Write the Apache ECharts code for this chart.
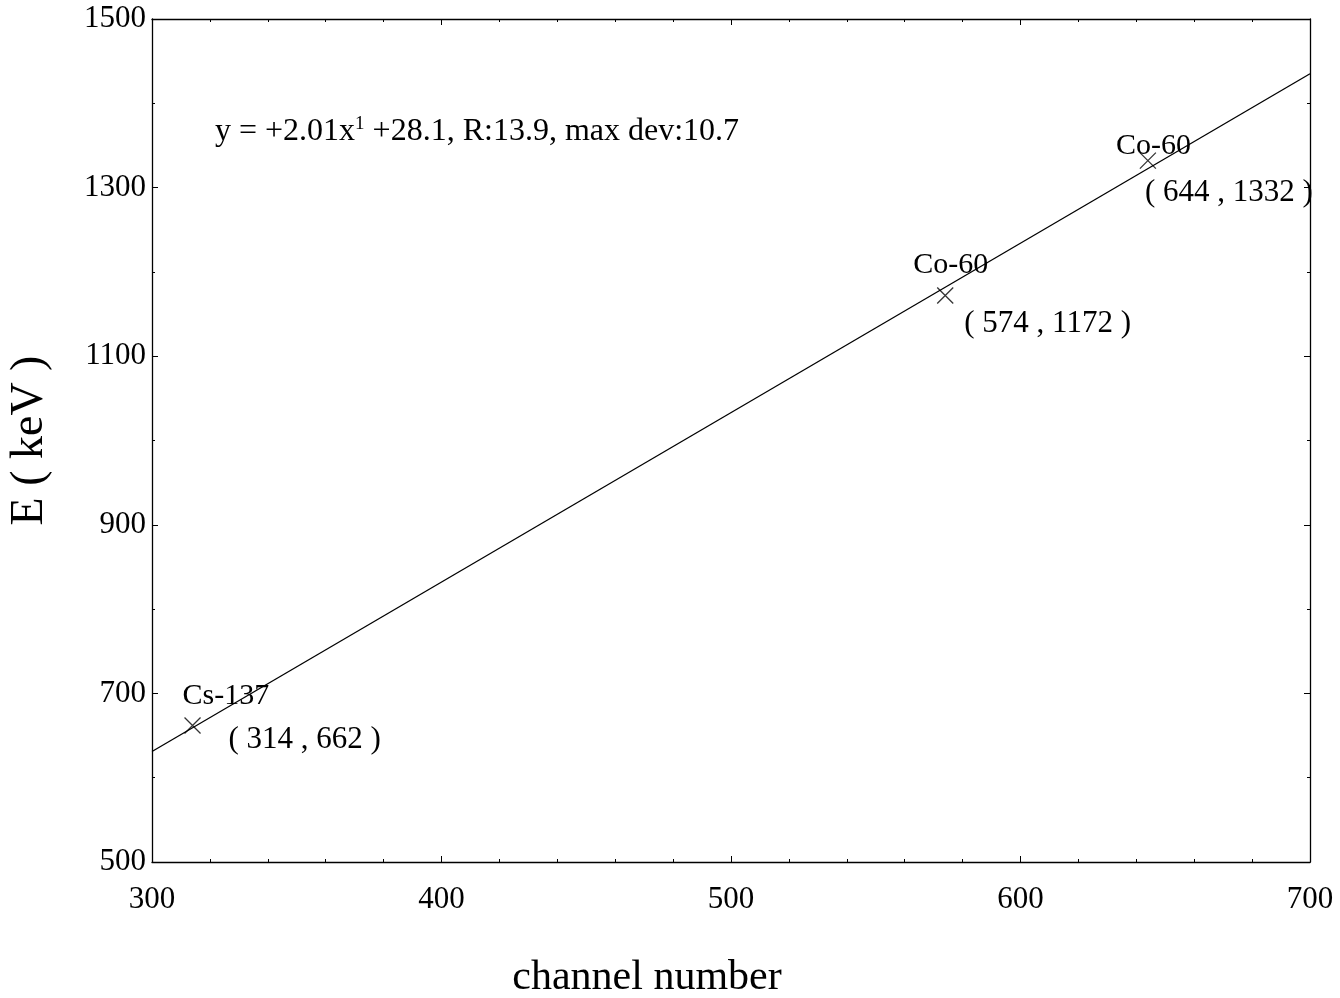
<!DOCTYPE html>
<html>
<head>
<meta charset="utf-8">
<script src="https://cdn.jsdelivr.net/npm/echarts@6/dist/echarts.min.js"></script>
<style>
  html, body { margin: 0; padding: 0; background: #fff; }
  #chart { width: 1340px; height: 998px; }
</style>
</head>
<body>
<div id="chart"></div>
<script>
// Calibration points: channel number vs. gamma energy
const isotopes = ['Cs-137', 'Co-60', 'Co-60'];
const channels = [314, 574, 644];
const energies = [662, 1172, 1332];

// Linear fit y = a*x + b
const fitSlope = 2.01;
const fitIntercept = 28.1;
const fitRange = [300, 700];
const fitText = 'y = +2.01x{sup|1} +28.1, R:13.9, max dev:10.7';

// Where each isotope name and coordinate pair sits relative to its marker (px)
const nameOffsets = [[-10, -29], [-32, -30], [-32, -14]];
const coordOffsets = [[36, 14], [19, 28], [-3, 32]];

const FONT = '"Liberation Serif", "DejaVu Serif", serif';

const fitLine = fitRange.map(x => [x, fitSlope * x + fitIntercept]);
const points = channels.map((c, i) => [c, energies[i]]);

const labelStyle = { show: true, position: 'right', distance: 0, color: '#000', opacity: 1, fontSize: 30, fontFamily: FONT };
const labelData = [];
points.forEach((p, i) => {
  labelData.push({
    value: p,
    label: Object.assign({}, labelStyle, { formatter: isotopes[i], offset: nameOffsets[i] })
  });
  labelData.push({
    value: p,
    label: Object.assign({}, labelStyle, { fontSize: 31, formatter: '( ' + channels[i] + ' , ' + energies[i] + ' )', offset: coordOffsets[i] })
  });
});

const chart = echarts.init(document.getElementById('chart'));

const baseAxis = {
  axisLine: { show: true, onZero: false, lineStyle: { color: '#000', width: 1.3 } },
  axisTick: { show: true, inside: true, length: 6, lineStyle: { color: '#000' } },
  minorTick: { show: true, length: 3, lineStyle: { color: '#000' } },
  splitLine: { show: false }
};

chart.setOption({
  animation: false,
  backgroundColor: '#fff',
  grid: { left: 152, top: 19, right: 30, bottom: 136, containLabel: false, outerBoundsMode: 'none' },
  textStyle: { fontFamily: FONT },
  graphic: [{
    type: 'text',
    left: 215,
    top: 115,
    style: {
      text: fitText,
      font: '32px ' + FONT,
      fill: '#000',
      rich: {
        sup: { fontSize: 19, verticalAlign: 'top', padding: [0, 0, 15, 0], fontFamily: FONT, fill: '#000' }
      }
    }
  }],
  xAxis: [
    Object.assign({}, baseAxis, {
      type: 'value', min: 300, max: 700, interval: 100, position: 'bottom',
      minorTick: Object.assign({}, baseAxis.minorTick, { splitNumber: 5 }),
      axisLabel: { color: '#000', fontSize: 31, fontFamily: FONT, margin: 22 },
      name: 'channel number', nameLocation: 'middle', nameGap: 95,
      nameTextStyle: { color: '#000', fontSize: 42, fontFamily: FONT, padding: [0, 168, 0, 0] }
    }),
    Object.assign({}, baseAxis, {
      type: 'value', min: 300, max: 700, interval: 100, position: 'top',
      minorTick: Object.assign({}, baseAxis.minorTick, { splitNumber: 5 }),
      axisLabel: { show: false }
    })
  ],
  yAxis: [
    Object.assign({}, baseAxis, {
      type: 'value', min: 500, max: 1500, interval: 200, position: 'left',
      minorTick: Object.assign({}, baseAxis.minorTick, { splitNumber: 2 }),
      axisLabel: { color: '#000', fontSize: 31, fontFamily: FONT, margin: 6, formatter: v => String(v) },
      name: 'E ( keV )', nameLocation: 'middle', nameGap: 99, nameRotate: 90,
      nameTextStyle: { color: '#000', fontSize: 46, fontFamily: FONT }
    }),
    Object.assign({}, baseAxis, {
      type: 'value', min: 500, max: 1500, interval: 200, position: 'right',
      minorTick: Object.assign({}, baseAxis.minorTick, { splitNumber: 2 }),
      axisLabel: { show: false }
    })
  ],
  series: [
    {
      type: 'line',
      data: fitLine,
      symbol: 'none',
      lineStyle: { color: '#000', width: 1.3 },
      silent: true
    },
    {
      type: 'scatter',
      data: points,
      symbol: 'path://M0,0L10,10M10,0L0,10',
      symbolSize: 16,
      itemStyle: { color: 'none', borderColor: '#000', borderWidth: 1.3 },
      silent: true
    },
    {
      type: 'scatter',
      data: labelData,
      symbolSize: 0,
      itemStyle: { color: '#000', opacity: 1 },
      silent: true
    }
  ]
});
</script>
</body>
</html>
